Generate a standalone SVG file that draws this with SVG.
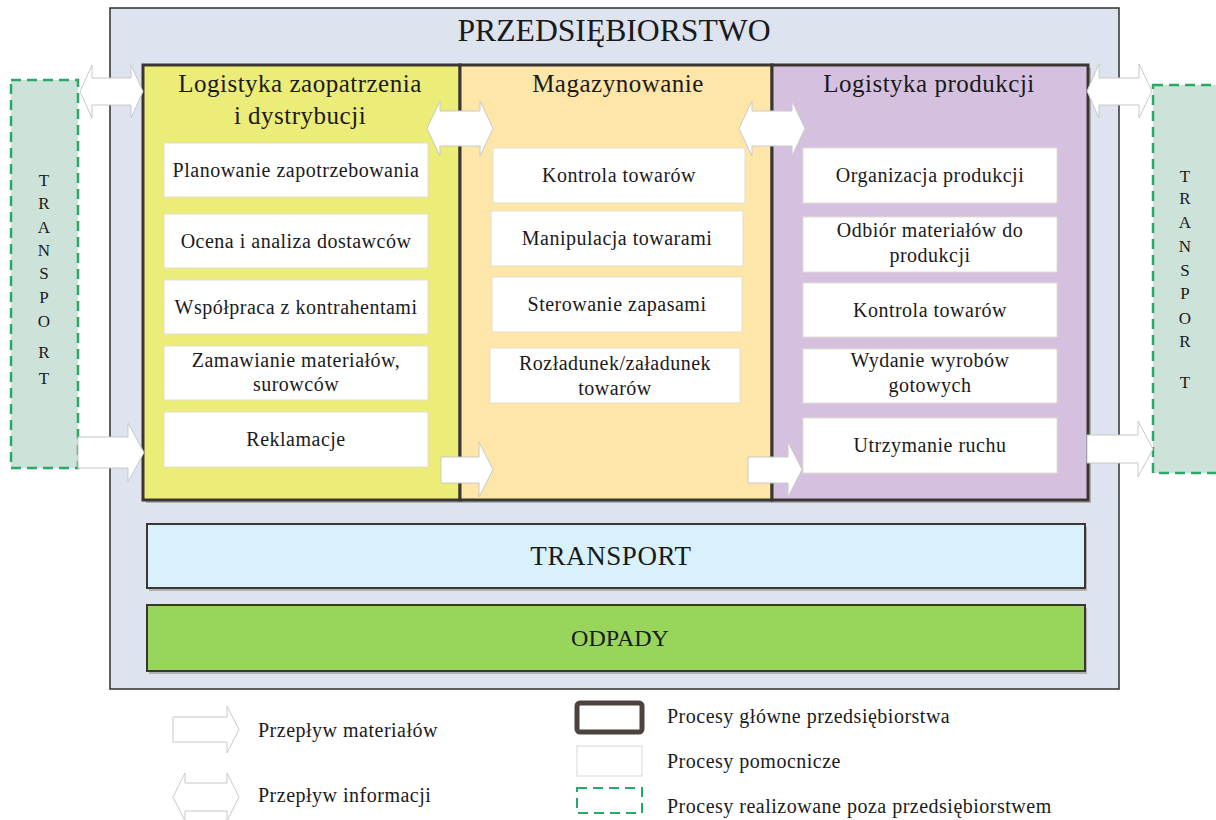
<svg xmlns="http://www.w3.org/2000/svg" width="1216" height="820" viewBox="0 0 1216 820">
  <style>
    text { font-family: "Liberation Serif", "Times New Roman", serif; fill: #1a1a1a; }
    .title { font-size: 32px; text-anchor: middle; }
    .head { font-size: 25px; text-anchor: middle; letter-spacing: 0.5px; }
    .lbl { font-size: 20px; text-anchor: middle; letter-spacing: 0.5px; }
    .bar { font-size: 27px; text-anchor: middle; letter-spacing: 0.6px; }
    .vert { font-size: 17px; text-anchor: middle; }
    .leg { font-size: 20px; letter-spacing: 0.5px; }
    .col { stroke: #3b3631; stroke-width: 3; }
    .shadow { fill: #8a8580; opacity: 0.55; }
    .sub { fill: #ffffff; stroke: #e2ddd0; stroke-width: 1; }
    .ext { fill: #cde3d9; stroke: #2aa866; stroke-width: 2.5; stroke-dasharray: 10 6; }
    .flow { fill: #ffffff; stroke: #c9c9c9; stroke-width: 1; }
  </style>

  <!-- enterprise frame -->
  <g id="enterprise">
    <rect x="110" y="8" width="1009" height="681" fill="#dde3ef" stroke="#2f2f2f" stroke-width="1.5"/>
    <text class="title" x="614" y="41" textLength="313" lengthAdjust="spacingAndGlyphs">PRZEDSIĘBIORSTWO</text>
  </g>

  <!-- main process columns -->
  <g id="col-supply">
    <rect class="shadow" x="146" y="68" width="317" height="435"/>
    <rect class="col" x="143" y="65" width="317" height="435" fill="#ecec79"/>
    <text class="head" x="300" y="92">Logistyka zaopatrzenia</text>
    <text class="head" x="300" y="124">i dystrybucji</text>
  </g>
  <g id="col-storage">
    <rect class="shadow" x="463" y="68" width="312" height="435"/>
    <rect class="col" x="460" y="65" width="312" height="435" fill="#fde6a8"/>
    <text class="head" x="618" y="92">Magazynowanie</text>
  </g>
  <g id="col-production">
    <rect class="shadow" x="775" y="68" width="316" height="435"/>
    <rect class="col" x="772" y="65" width="316" height="435" fill="#d5c1df"/>
    <text class="head" x="929" y="92">Logistyka produkcji</text>
  </g>

  <!-- supporting processes: supply and distribution -->
  <g id="sup-planowanie">
    <rect class="sub" x="164" y="143" width="264" height="54"/>
    <text class="lbl" x="296" y="177">Planowanie zapotrzebowania</text>
  </g>
  <g id="sup-ocena">
    <rect class="sub" x="164" y="214" width="264" height="54"/>
    <text class="lbl" x="296" y="248">Ocena i analiza dostawców</text>
  </g>
  <g id="sup-wspolpraca">
    <rect class="sub" x="164" y="280" width="264" height="54"/>
    <text class="lbl" x="296" y="314">Współpraca z kontrahentami</text>
  </g>
  <g id="sup-zamawianie">
    <rect class="sub" x="164" y="346" width="264" height="54"/>
    <text class="lbl" x="296" y="367">Zamawianie materiałów,</text>
    <text class="lbl" x="296" y="391">surowców</text>
  </g>
  <g id="sup-reklamacje">
    <rect class="sub" x="164" y="412" width="264" height="55"/>
    <text class="lbl" x="296" y="446">Reklamacje</text>
  </g>

  <!-- supporting processes: storage -->
  <g id="mag-kontrola">
    <rect class="sub" x="493" y="148" width="252" height="55"/>
    <text class="lbl" x="619" y="182">Kontrola towarów</text>
  </g>
  <g id="mag-manipulacja">
    <rect class="sub" x="491" y="211" width="252" height="55"/>
    <text class="lbl" x="617" y="245">Manipulacja towarami</text>
  </g>
  <g id="mag-sterowanie">
    <rect class="sub" x="492" y="277" width="250" height="55"/>
    <text class="lbl" x="617" y="311">Sterowanie zapasami</text>
  </g>
  <g id="mag-rozladunek">
    <rect class="sub" x="490" y="348" width="250" height="55"/>
    <text class="lbl" x="615" y="370">Rozładunek/załadunek</text>
    <text class="lbl" x="615" y="395">towarów</text>
  </g>

  <!-- supporting processes: production -->
  <g id="prod-organizacja">
    <rect class="sub" x="803" y="148" width="254" height="55"/>
    <text class="lbl" x="930" y="182">Organizacja produkcji</text>
  </g>
  <g id="prod-odbior">
    <rect class="sub" x="803" y="217" width="254" height="55"/>
    <text class="lbl" x="930" y="237">Odbiór materiałów do</text>
    <text class="lbl" x="930" y="262">produkcji</text>
  </g>
  <g id="prod-kontrola">
    <rect class="sub" x="803" y="283" width="254" height="54"/>
    <text class="lbl" x="930" y="317">Kontrola towarów</text>
  </g>
  <g id="prod-wydanie">
    <rect class="sub" x="803" y="349" width="254" height="54"/>
    <text class="lbl" x="930" y="367">Wydanie wyrobów</text>
    <text class="lbl" x="930" y="392">gotowych</text>
  </g>
  <g id="prod-utrzymanie">
    <rect class="sub" x="803" y="418" width="254" height="55"/>
    <text class="lbl" x="930" y="452">Utrzymanie ruchu</text>
  </g>

  <!-- cross-cutting bars -->
  <g id="bar-transport">
    <rect class="shadow" x="149" y="527" width="938" height="64"/>
    <rect x="147" y="524" width="938" height="64" fill="#d9f1fb" stroke="#3b3631" stroke-width="2"/>
    <text class="bar" x="611" y="565">TRANSPORT</text>
  </g>
  <g id="bar-odpady">
    <rect class="shadow" x="149" y="608" width="938" height="66"/>
    <rect x="147" y="605" width="938" height="66" fill="#98d65b" stroke="#3b3631" stroke-width="2"/>
    <text class="bar" x="620" y="646" style="font-size:24px;letter-spacing:0">ODPADY</text>
  </g>

  <!-- external transport -->
  <g id="ext-transport-in">
    <rect class="ext" x="11" y="80" width="67" height="388"/>
    <text class="vert" x="44" y="186">T</text>
    <text class="vert" x="44" y="209">R</text>
    <text class="vert" x="44" y="233">A</text>
    <text class="vert" x="44" y="256">N</text>
    <text class="vert" x="44" y="279">S</text>
    <text class="vert" x="44" y="303">P</text>
    <text class="vert" x="44" y="327">O</text>
    <text class="vert" x="44" y="358">R</text>
    <text class="vert" x="44" y="384">T</text>
  </g>
  <g id="ext-transport-out">
    <rect class="ext" x="1153" y="85" width="70" height="388"/>
    <text class="vert" x="1185" y="182">T</text>
    <text class="vert" x="1185" y="204">R</text>
    <text class="vert" x="1185" y="228">A</text>
    <text class="vert" x="1185" y="252">N</text>
    <text class="vert" x="1185" y="276">S</text>
    <text class="vert" x="1185" y="299">P</text>
    <text class="vert" x="1185" y="324">O</text>
    <text class="vert" x="1185" y="347">R</text>
    <text class="vert" x="1185" y="388">T</text>
  </g>

  <!-- material and information flows -->
  <g id="connectors">
    <polygon class="flow" points="80,91.5 92,65 92,78 131,78 131,65 143,91.5 131,118 131,105 92,105 92,118"/>
    <polygon class="flow" points="78,437 128,437 128,423 144,452.5 128,482 128,468 78,468"/>
    <polygon class="flow" points="427,128.5 440,101 440,111 480,111 480,101 493,128.5 480,156 480,146 440,146 440,156"/>
    <polygon class="flow" points="739,128.5 752,101 752,111 792,111 792,101 805,128.5 792,156 792,146 752,146 752,156"/>
    <polygon class="flow" points="441,457 479,457 479,442 493,469.5 479,497 479,483 441,483"/>
    <polygon class="flow" points="748,457 788,457 788,442 802,469.5 788,497 788,483 748,483"/>
    <polygon class="flow" points="1087,91 1099,64 1099,78 1139,78 1139,64 1152,91 1139,118 1139,105 1099,105 1099,118"/>
    <polygon class="flow" points="1087,435 1138,435 1138,421 1153,449 1138,477 1138,463 1087,463"/>
  </g>

  <!-- legend -->
  <g id="legend">
    <polygon class="flow" points="173,717 227,717 227,706 239,729.5 227,753 227,742 173,742"/>
    <text class="leg" x="258" y="737">Przepływ materiałów</text>
    <polygon class="flow" points="173,797 185,773 185,783 227,783 227,773 239,797 227,821 227,811 185,811 185,821"/>
    <text class="leg" x="258" y="802">Przepływ informacji</text>
    <rect x="577" y="703" width="65" height="29" rx="3" fill="#ffffff" stroke="#4b433c" stroke-width="5"/>
    <text class="leg" x="667" y="723">Procesy główne przedsiębiorstwa</text>
    <rect x="577" y="746" width="65" height="30" fill="#ffffff" stroke="#d8d8d8" stroke-width="1"/>
    <text class="leg" x="667" y="768">Procesy pomocnicze</text>
    <rect x="577" y="788" width="65" height="25" fill="#ffffff" stroke="#2aa866" stroke-width="2" stroke-dasharray="10 6"/>
    <text class="leg" x="667" y="813">Procesy realizowane poza przedsiębiorstwem</text>
  </g>
</svg>
